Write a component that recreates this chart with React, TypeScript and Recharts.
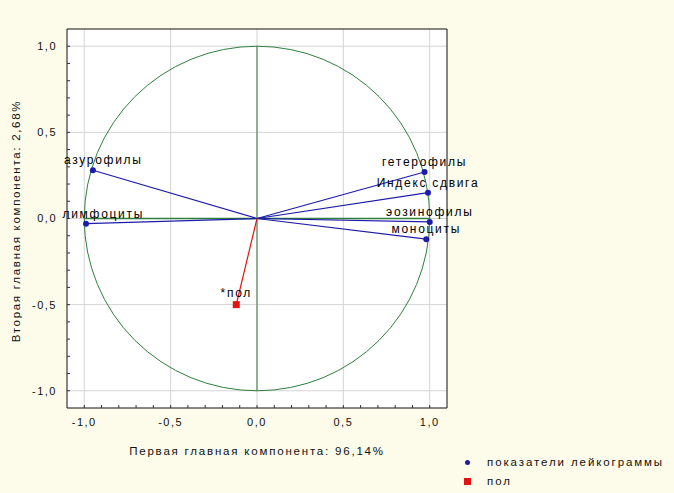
import React from 'react';
import {
  ScatterChart,
  Scatter,
  XAxis,
  YAxis,
  CartesianGrid,
  ReferenceLine,
  ReferenceDot,
} from 'recharts';

// loadings on the first two principal components
const leukoNames = ['азурофилы', 'лимфоциты', 'гетерофилы', 'Индекс сдвига', 'эозинофилы', 'моноциты'];
const leukoPc1 = [-0.95, -0.99, 0.97, 0.99, 1.0, 0.98];
const leukoPc2 = [0.28, -0.03, 0.27, 0.15, -0.02, -0.12];

const sexNames = ['*пол'];
const sexPc1 = [-0.12];
const sexPc2 = [-0.5];

const majorTicks = [-1, -0.5, 0, 0.5, 1];
const minorTicks = [
  -1, -0.9, -0.8, -0.7, -0.6, -0.5, -0.4, -0.3, -0.2, -0.1, 0,
  0.1, 0.2, 0.3, 0.4, 0.5, 0.6, 0.7, 0.8, 0.9, 1,
];

const legendNames = ['показатели лейкограммы', 'пол'];
const xTitle = 'Первая главная компонента: 96,14%';
const yTitle = 'Вторая главная компонента: 2,68%';

const W = 674;
const H = 493;
// plot area: x 67..447, y 29..408
const margin = { top: 28, right: 226, bottom: 55, left: 27 };
const domain: [number, number] = [-1.1, 1.1];
const span = domain[1] - domain[0];
const plotW = 380;
const plotH = 379;
const plotLeft = 67;
const TM = 10; // gap between frame and tick labels
const TICK = 3; // inner tick length

const BG = '#fdfbe9';
const GREEN = '#2f7f3c';
const BLUE = '#1c1ca8';
const RED = '#e01414';
const FONT = '"Liberation Sans", Arial, sans-serif';

const leukoData = leukoNames.map((name, i) => ({ name, x: leukoPc1[i], y: leukoPc2[i] }));
const sexData = sexNames.map((name, i) => ({ name, x: sexPc1[i], y: sexPc2[i] }));

const fmt = (v: number) =>
  Math.abs(v * 2 - Math.round(v * 2)) < 1e-6 ? v.toFixed(1).replace('.', ',') : '';

// grid only at the labelled ticks
const gridX = ({ xAxis, offset }: any) =>
  majorTicks.map((t) =>
    xAxis && typeof xAxis.scale === 'function'
      ? xAxis.scale(t)
      : offset.left + ((t - domain[0]) / span) * offset.width
  );
const gridY = ({ yAxis, offset }: any) =>
  majorTicks.map((t) =>
    yAxis && typeof yAxis.scale === 'function'
      ? yAxis.scale(t)
      : offset.top + ((domain[1] - t) / span) * offset.height
  );

const tickStyle = { fontFamily: FONT, fontSize: 11, letterSpacing: 1.5, fill: '#111' };
const tickStroke = '#333';

// ticks point into the plot, labels sit outside
const BottomTick = (p: any) => {
  const edge = p.y - TM;
  const label = fmt(p.payload.value);
  return (
    <g>
      <line x1={p.x} x2={p.x} y1={edge} y2={edge - TICK} stroke={tickStroke} />
      {label && (
        <text x={p.x} y={p.y} dy="0.71em" textAnchor="middle" style={tickStyle}>
          {label}
        </text>
      )}
    </g>
  );
};
const LeftTick = (p: any) => {
  const edge = p.x + TM;
  const label = fmt(p.payload.value);
  return (
    <g>
      <line x1={edge} x2={edge + TICK} y1={p.y} y2={p.y} stroke={tickStroke} />
      {label && (
        <text x={p.x} y={p.y} dy="0.355em" textAnchor="end" style={tickStyle}>
          {label}
        </text>
      )}
    </g>
  );
};
const TopTick = (p: any) => (
  <line x1={p.x} x2={p.x} y1={p.y} y2={p.y + TICK} stroke={tickStroke} />
);
const RightTick = (p: any) => (
  <line x1={p.x} x2={p.x - TICK} y1={p.y} y2={p.y} stroke={tickStroke} />
);

const labelStyle = { fontFamily: FONT, fontSize: 12, letterSpacing: 1.7, fill: '#000' };

function PointLabel({ cx, cy, name }: { cx: number; cy: number; name: string }) {
  const w = name.length * 8.5;
  const tx = Math.max(cx, plotLeft + w / 2 - 2);
  return (
    <text x={tx} y={cy - 6} textAnchor="middle" style={labelStyle}>
      {name}
    </text>
  );
}

const BlueDot = (p: any) => (
  <g>
    <PointLabel cx={p.cx} cy={p.cy} name={p.payload.name} />
    <circle cx={p.cx} cy={p.cy} r={3} fill={BLUE} />
  </g>
);

const RedSquare = (p: any) => (
  <g>
    <PointLabel cx={p.cx} cy={p.cy - 2} name={p.payload.name} />
    <rect x={p.cx - 3.5} y={p.cy - 3.5} width={7} height={7} fill={RED} />
  </g>
);

const UnitCircle = (p: any) => (
  <ellipse
    cx={p.cx}
    cy={p.cy}
    rx={plotW / span}
    ry={plotH / span}
    fill="none"
    stroke={GREEN}
    strokeWidth={1}
  />
);

const titleStyle: React.CSSProperties = {
  position: 'absolute',
  whiteSpace: 'nowrap',
  fontFamily: FONT,
  fontSize: 11.5,
  color: '#111',
};

export default function App() {
  return (
    <div style={{ position: 'absolute', left: 0, top: 0, width: W, height: H, background: BG, overflow: 'hidden' }}>
      <ScatterChart width={W} height={H} margin={margin}>
        <CartesianGrid
          stroke="#d4d4d4"
          fill="#fff"
          verticalCoordinatesGenerator={gridX}
          horizontalCoordinatesGenerator={gridY}
        />

        <XAxis
          type="number"
          dataKey="x"
          domain={domain}
          ticks={minorTicks}
          interval={0}
          height={30}
          tickSize={0}
          tickMargin={TM}
          tick={BottomTick}
          tickLine={false}
          axisLine={{ stroke: '#111' }}
        />
        <YAxis
          type="number"
          dataKey="y"
          domain={domain}
          ticks={minorTicks}
          interval={0}
          width={40}
          tickSize={0}
          tickMargin={TM}
          tick={LeftTick}
          tickLine={false}
          axisLine={{ stroke: '#111' }}
        />
        <XAxis
          xAxisId="top"
          orientation="top"
          type="number"
          domain={domain}
          ticks={minorTicks}
          interval={0}
          height={1}
          tickSize={0}
          tickMargin={0}
          tick={TopTick}
          tickLine={false}
          axisLine={{ stroke: '#111' }}
        />
        <YAxis
          yAxisId="right"
          orientation="right"
          type="number"
          domain={domain}
          ticks={minorTicks}
          interval={0}
          width={1}
          tickSize={0}
          tickMargin={0}
          tick={RightTick}
          tickLine={false}
          axisLine={{ stroke: '#111' }}
        />

        <ReferenceDot x={0} y={0} shape={UnitCircle} />
        <ReferenceLine segment={[{ x: -1, y: 0 }, { x: 1, y: 0 }]} stroke={GREEN} strokeWidth={1.5} />
        <ReferenceLine segment={[{ x: 0, y: -1 }, { x: 0, y: 1 }]} stroke={GREEN} strokeWidth={1} />

        {leukoData.map((d) => (
          <ReferenceLine
            key={d.name}
            segment={[{ x: 0, y: 0 }, { x: d.x, y: d.y }]}
            stroke={BLUE}
            strokeWidth={1.2}
          />
        ))}
        {sexData.map((d) => (
          <ReferenceLine
            key={d.name}
            segment={[{ x: 0, y: 0 }, { x: d.x, y: d.y }]}
            stroke={RED}
            strokeWidth={1.2}
          />
        ))}

        <Scatter name={legendNames[0]} data={leukoData} shape={BlueDot} isAnimationActive={false} />
        <Scatter name={legendNames[1]} data={sexData} shape={RedSquare} isAnimationActive={false} />
      </ScatterChart>

      <div style={{ ...titleStyle, left: 257, top: 451, letterSpacing: 1.8, transform: 'translate(-50%, -50%)' }}>
        {xTitle}
      </div>
      <div
        style={{
          ...titleStyle,
          left: 16,
          top: 221,
          letterSpacing: 1.7,
          transform: 'translate(-50%, -50%) rotate(-90deg)',
        }}
      >
        {yTitle}
      </div>

      {legendNames.map((name, i) => (
        <div
          key={name}
          style={{
            position: 'absolute',
            left: 464,
            top: 455 + i * 19,
            height: 14,
            display: 'flex',
            alignItems: 'center',
            fontFamily: FONT,
            fontSize: 11.5,
            letterSpacing: 1.9,
            color: '#111',
            whiteSpace: 'nowrap',
          }}
        >
          <span
            style={{
              display: 'inline-block',
              width: i === 0 ? 5 : 7,
              height: i === 0 ? 5 : 7,
              borderRadius: i === 0 ? 3 : 0,
              background: i === 0 ? BLUE : RED,
              marginLeft: i === 0 ? 1 : 0,
              marginRight: i === 0 ? 17 : 16,
            }}
          />
          {name}
        </div>
      ))}
    </div>
  );
}
